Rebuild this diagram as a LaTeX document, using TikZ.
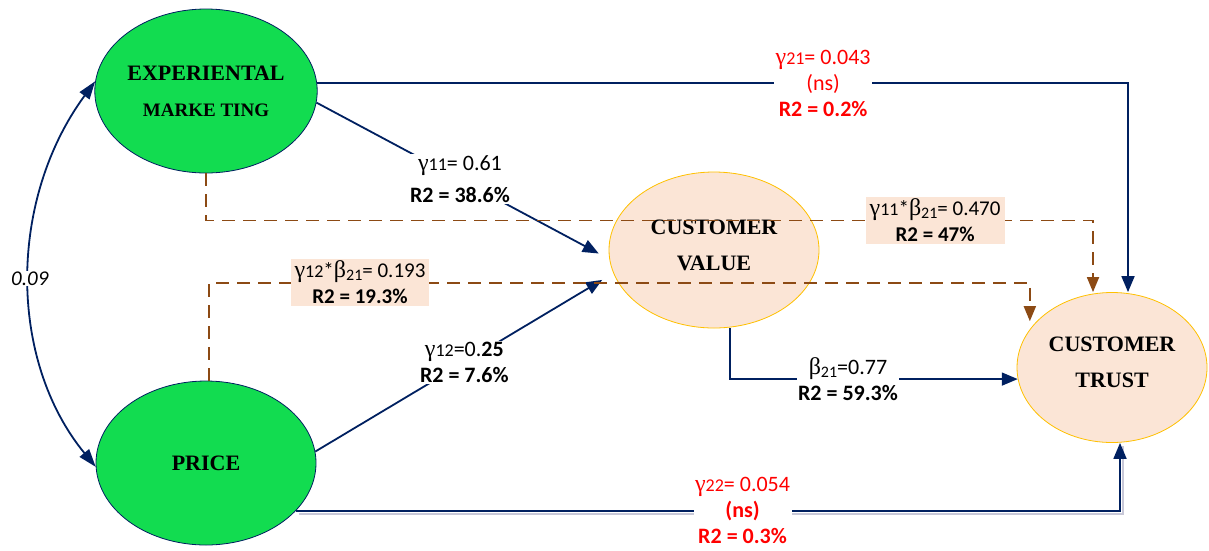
\documentclass[tikz,border=0pt]{standalone}
\usepackage{fontspec}
\setmainfont{Liberation Serif}
\newfontfamily\lab{Carlito}
\usetikzlibrary{shapes.geometric,arrows.meta,calc}
\definecolor{grn}{HTML}{12DC50}
\definecolor{nav}{HTML}{002060}
\definecolor{brn}{HTML}{8C4A14}
\definecolor{pch}{HTML}{FBE5D6}
\definecolor{gld}{HTML}{FFC000}
\definecolor{shd}{HTML}{C8C8D8}
\newcommand\gm{{\rmfamily\fontsize{24}{26}\selectfont γ}}
\newcommand\bt{{\rmfamily\fontsize{24}{26}\selectfont β}}
\newcommand\gsub[1]{{\fontsize{18}{20}\selectfont #1}}
\newcommand\bsub[1]{\raisebox{-3pt}{\fontsize{16}{18}\selectfont #1}}
\newcommand\lift{\rule[-10pt]{0pt}{10pt}}
\begin{document}
\begin{tikzpicture}[x=1pt,y=-1pt,
  greenell/.style={ellipse,draw=nav,line width=0.8pt,fill=grn,minimum width=220pt,minimum height=164pt,inner sep=0pt,align=center,font=\bfseries\fontsize{22}{36}\selectfont},
  peachell/.style={ellipse,draw=gld,line width=0.8pt,fill=pch,inner sep=0pt,align=center,font=\bfseries\fontsize{22}{36}\selectfont},
  navline/.style={draw=nav,line width=1.8pt,-{Triangle[length=16pt,width=13pt]}},
  dsh/.style={draw=brn,line width=1.8pt,dash pattern=on 13pt off 8pt,-{Triangle[length=15pt,width=12pt]}},
  lbl/.style={fill=white,inner sep=1.5pt,align=center,font=\lab\fontsize{22}{26}\selectfont},
  pbox/.style={fill=pch,inner xsep=4pt,inner ysep=2pt,align=center,font=\lab\fontsize{21}{26}\selectfont,text=black},
]
\useasboundingbox (0,0) rectangle (1209,550);

% nodes
\node[greenell] (em) at (206,91) {EXPERIENTAL\\\fontsize{19}{36}\selectfont MARKE TING};
\node[greenell] (price) at (206,463) {PRICE};
\node[peachell,minimum width=210pt,minimum height=156pt] (cv) at (714,250) {CUSTOMER\\VALUE\lift};
\node[peachell,minimum width=190pt,minimum height=150pt] (ct) at (1112,367.5) {CUSTOMER\\TRUST\lift};

% correlation
\draw[draw=nav,line width=1.8pt,{Triangle[length=18pt,width=12pt]}-{Triangle[length=18pt,width=12pt]}]
  (em.175) .. controls (8,200) and (8,360) .. (price.182)
  node[pos=0.5,fill=white,inner sep=1pt,font=\lab\itshape\fontsize{21}{25}\selectfont]{0.09};

% EM -> CT
\draw[navline] (em.4) -| ([xshift=16pt]ct.north)
  node[lbl,text=red,pos=0.312]{\gm\gsub{21}= 0.043\\(ns)\\\textbf{R2 = 0.2\%}};

% EM -> CV
\draw[navline,shorten >=12pt] (em.-6) -- (cv.185)
  node[lbl,pos=0.49,font=\lab\fontsize{22}{32}\selectfont]{\gm\gsub{11}= 0.61\\\textbf{R2 = 38.6\%}};

% PRICE -> CV
\draw[navline,shorten >=13pt] (price.6) -- (cv.193)
  node[lbl,pos=0.5]{\gm\gsub{12}=0.\textbf{25}\\\textbf{R2 = 7.6\%}};

% CV -> CT
\draw[navline] ([xshift=16pt]cv.south) |- (ct.187)
  node[lbl,pos=0.705]{\bt\bsub{21}=0.77\\\textbf{R2 = 59.3\%}};

% PRICE -> CT with shadow
\draw[draw=shd,line width=2.5pt,transform canvas={xshift=3pt,yshift=-3pt}] (price.-28) -| ([xshift=8pt]ct.south);
\draw[navline] (price.-28) -| ([xshift=8pt]ct.south)
  node[lbl,text=red,pos=0.271]{\gm\gsub{22}= 0.054\\\textbf{(ns)}\\\textbf{R2 = 0.3\%}};

% indirect effects
\draw[dsh] (em.south) -- ++(0,47) -| ([xshift=-19pt]ct.north)
  node[pbox,pos=0.411]{\gm\gsub{11}*\bt\bsub{21}= 0.470\\\textbf{R2 = 47\%}};
\draw[dsh,shorten >=8pt] ([xshift=3pt]price.north) -- ++(0,-98) -| (ct.155)
  node[pbox,pos=0.092]{\gm\gsub{12}*\bt\bsub{21}= 0.193\\\textbf{R2 = 19.3\%}};
\end{tikzpicture}
\end{document}
